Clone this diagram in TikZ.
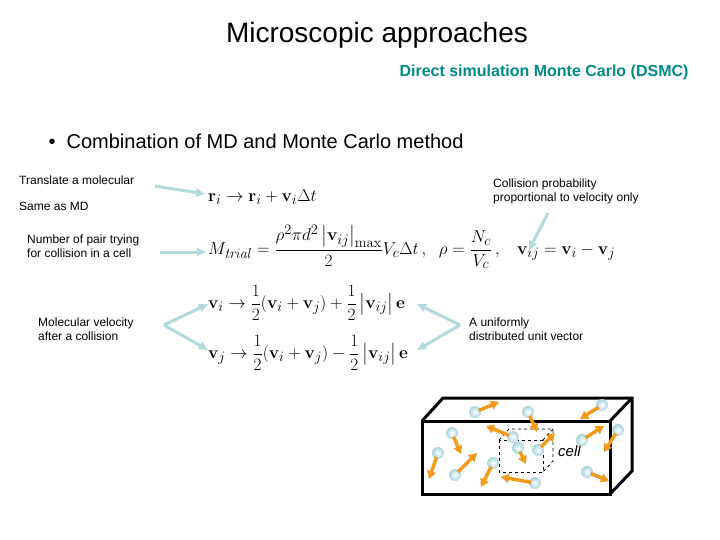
\documentclass[tikz,border=0pt]{standalone}
\usepackage{amsmath}
\usepackage[no-math]{fontspec}
\setmainfont{Liberation Sans}
\usetikzlibrary{arrows.meta}
\definecolor{lb}{HTML}{B2DADD}
\definecolor{dsmc}{HTML}{008A8A}
\definecolor{org}{HTML}{F29A1C}
\definecolor{ball}{HTML}{A8D4DC}
\tikzset{
 lbl/.style={anchor=west,inner sep=0,font=\fontsize{12}{14}\selectfont,align=left},
 eq/.style={anchor=west,inner sep=0,font=\fontsize{19}{22}\selectfont},
 pt/.style={-{Triangle[length=9pt,width=8pt]},lb,line width=3pt},
 mol/.style={-{Triangle[length=8pt,width=9pt]},org,line width=3.5pt,shorten <=-2pt},
 balls/.style={circle,inner sep=0,minimum size=12pt,inner color=white,outer color=ball},
}
\begin{document}
\begin{tikzpicture}[x=1pt,y=-1pt]
\useasboundingbox (0,0) rectangle (720,540);
\node (title) at (377,35) {\fontsize{28}{32}\selectfont Microscopic approaches};
\node[anchor=east,text=dsmc] (sub) at (692,72) {\fontsize{16}{18}\selectfont\bfseries Direct simulation Monte Carlo (DSMC)};
\node[anchor=west] (bul) at (45,141) {\fontsize{20}{24}\selectfont\textbullet\ \ Combination of MD and Monte Carlo method};
\node[lbl] (t1) at (19,180) {Translate a molecular};
\node[lbl] (t2) at (19,206) {Same as MD};
\node[lbl] (t3) at (27,246) {Number of pair trying\\for collision in a cell};
\node[lbl] (t4) at (38,329) {Molecular velocity\\after a collision};
\node[lbl] (t5) at (493,191) {Collision probability\\proportional to velocity only};
\node[lbl] (t6) at (469,329) {A uniformly\\distributed unit vector};
\node[eq] (e1) at (208,197) {$\mathbf{r}_i\rightarrow\mathbf{r}_i+\mathbf{v}_i\Delta t$};
\node[eq] (e2) at (208,247) {$M_{\mathit{trial}}=\dfrac{\rho^2\pi d^2\left|\mathbf{v}_{ij}\right|_{\max}}{2}V_c\Delta t\,,\;\; \rho=\dfrac{N_c}{V_c}\,,\;\;\; \mathbf{v}_{ij}=\mathbf{v}_i-\mathbf{v}_j$};
\node[eq] (e3) at (208,303) {$\mathbf{v}_i\rightarrow\dfrac{1}{2}(\mathbf{v}_i+\mathbf{v}_j)+\dfrac{1}{2}\left|\mathbf{v}_{ij}\right|\mathbf{e}$};
\node[eq] (e4) at (208,353) {$\mathbf{v}_j\rightarrow\dfrac{1}{2}(\mathbf{v}_i+\mathbf{v}_j)-\dfrac{1}{2}\left|\mathbf{v}_{ij}\right|\mathbf{e}$};
\coordinate (c1) at (155,186);
\coordinate (c2) at (160,252);
\coordinate (cl) at (164,325);
\coordinate (cr) at (460,325);
\coordinate (c5) at (548,213);
\draw[pt] (c1) -- (205,194);
\draw[pt] (c2) -- (206,252);
\draw[pt] (cl) -- (208,304);
\draw[pt] (cl) -- (208,350);
\draw[pt] (cr) -- (417,304);
\draw[pt] (cr) -- (417,350);
\draw[pt] (c5) -- (529,250);
% box
\draw[line width=3pt,line join=miter] (422,421) rectangle (610,494);
\draw[line width=3pt] (422,421) -- (443,398) -- (632,398) -- (632,471) -- (610,494);
\draw[line width=3pt] (610,421) -- (632,398);
\draw[dashed,thick] (499,440) rectangle (543,472);
\draw[dashed,thick] (499,440) -- (509,429) -- (553,429) -- (553,461) -- (543,472);
\draw[dashed,thick] (543,440) -- (553,429);
\node[anchor=west,inner sep=0] (cell) at (558,451) {\fontsize{15}{17}\selectfont\itshape cell};
\foreach \bx/\by/\ax/\ay [count=\k] in {475/412/499/402, 528/412/537/432, 602/405/580/419, 452/433/461/454, 513/437/486/426, 518/448/526/464, 538/450/555/433, 582/440/604/426, 618/430/604/452, 438/453/429/479, 455/475/477/453, 493/463/481/487, 535/483/501/477, 587/472/609/481}{
 \node[balls] (m\k) at (\bx,\by) {};
 \coordinate (a\k) at (\ax,\ay);
 \draw[mol] (m\k) -- (a\k);
}
\end{tikzpicture}
\end{document}
